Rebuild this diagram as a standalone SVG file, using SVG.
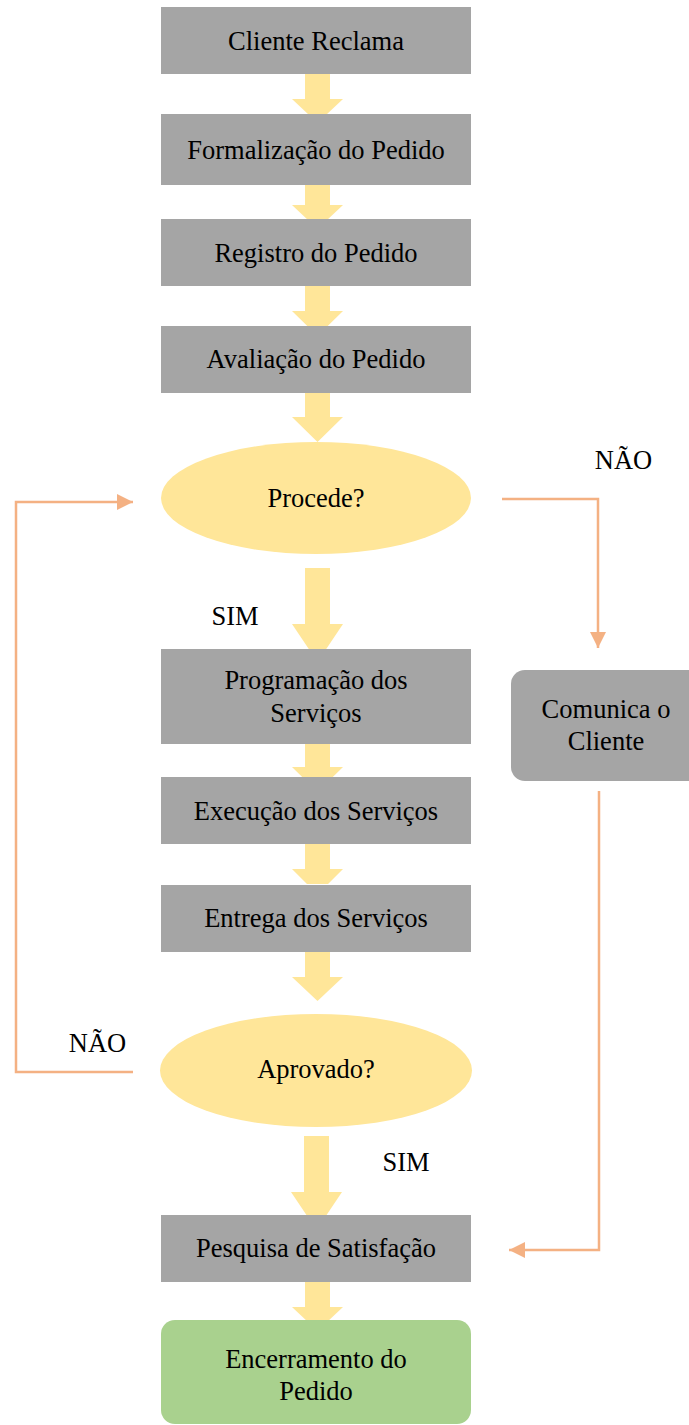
<svg xmlns="http://www.w3.org/2000/svg" width="689" height="1425" viewBox="0 0 689 1425">
  <style>
    .box { fill: #A5A5A5; }
    .dec { fill: #FFE699; }
    .end { fill: #A9D18E; }
    .flow { fill: #FFE699; }
    .link { fill: none; stroke: #F4B183; stroke-width: 2.5; stroke-linejoin: miter; }
    text { font-family: "Liberation Serif", "Times New Roman", serif; font-size: 26.5px; fill: #000; text-anchor: middle; }
  </style>
  <defs>
    <marker id="head" viewBox="0 0 10 10" refX="10" refY="5" markerWidth="6.4" markerHeight="6.4" markerUnits="strokeWidth" orient="auto">
      <path d="M0,0 L10,5 L0,10 Z" fill="#F4B183"/>
    </marker>
  </defs>

  <!-- block arrows of the main flow and the orange side links -->
  <g id="connectors">
    <polygon class="flow" points="305,67 330,67 330,99 343,99 317.5,123 292,99 305,99"/>
    <polygon class="flow" points="305,173 330,173 330,205 343,205 317.5,229 292,205 305,205"/>
    <polygon class="flow" points="305,279 330,279 330,311 343,311 317.5,336 292,311 305,311"/>
    <polygon class="flow" points="305,385 330,385 330,417 343,417 317.5,442 292,417 305,417"/>
    <polygon class="flow" points="305,568 330,568 330,624 343,624 317.5,662 292,624 305,624"/>
    <polygon class="flow" points="305,736 330,736 330,767 343,767 317.5,792 292,767 305,767"/>
    <polygon class="flow" points="305,837 330,837 330,869 343,869 328,884 307,884 292,869 305,869"/>
    <polygon class="flow" points="305,945 330,945 330,977 343,977 317.5,1001 292,977 305,977"/>
    <polygon class="flow" points="304,1136 329,1136 329,1192 342,1192 316.5,1230 291,1192 304,1192"/>
    <polygon class="flow" points="305,1275 330,1275 330,1307 343,1307 317.5,1331 292,1307 305,1307"/>

    <polyline class="link" points="502,499 598,499 598,648" marker-end="url(#head)"/>
    <polyline class="link" points="599,791 599,1250 509,1250" marker-end="url(#head)"/>
    <polyline class="link" points="133,1072 16,1072 16,502 133,502" marker-end="url(#head)"/>
  </g>

  <g id="n-cliente-reclama">
    <rect class="box" x="161" y="7" width="310" height="67"/>
    <text x="316" y="49.5">Cliente Reclama</text>
  </g>
  <g id="n-formalizacao">
    <rect class="box" x="161" y="114" width="310" height="71"/>
    <text x="316" y="158.5">Formalização do Pedido</text>
  </g>
  <g id="n-registro">
    <rect class="box" x="161" y="219" width="310" height="67"/>
    <text x="316" y="262">Registro do Pedido</text>
  </g>
  <g id="n-avaliacao">
    <rect class="box" x="161" y="326" width="310" height="67"/>
    <text x="316" y="368">Avaliação do Pedido</text>
  </g>
  <g id="n-procede">
    <ellipse class="dec" cx="316" cy="498" rx="155" ry="56"/>
    <text x="316" y="507">Procede?</text>
  </g>
  <g id="n-programacao">
    <rect class="box" x="161" y="649" width="310" height="95"/>
    <text x="316" y="689">Programação dos</text>
    <text x="316" y="722">Serviços</text>
  </g>
  <g id="n-comunica">
    <rect class="box" x="511" y="670" width="200" height="111" rx="14" ry="14"/>
    <text x="606" y="718">Comunica o</text>
    <text x="606" y="750">Cliente</text>
  </g>
  <g id="n-execucao">
    <rect class="box" x="161" y="777" width="310" height="67"/>
    <text x="316" y="820">Execução dos Serviços</text>
  </g>
  <g id="n-entrega">
    <rect class="box" x="161" y="885" width="310" height="67"/>
    <text x="316" y="927">Entrega dos Serviços</text>
  </g>
  <g id="n-aprovado">
    <ellipse class="dec" cx="316" cy="1070.5" rx="156" ry="56.5"/>
    <text x="316" y="1078">Aprovado?</text>
  </g>
  <g id="n-pesquisa">
    <rect class="box" x="161" y="1215" width="310" height="67"/>
    <text x="316" y="1257">Pesquisa de Satisfação</text>
  </g>
  <g id="n-encerramento">
    <rect class="end" x="161" y="1320" width="310" height="104" rx="14" ry="14"/>
    <text x="316" y="1368">Encerramento do</text>
    <text x="316" y="1400">Pedido</text>
  </g>

  <g id="labels">
    <text x="623.5" y="469">NÃO</text>
    <text x="235" y="625">SIM</text>
    <text x="97.5" y="1052">NÃO</text>
    <text x="406" y="1171">SIM</text>
  </g>
</svg>
